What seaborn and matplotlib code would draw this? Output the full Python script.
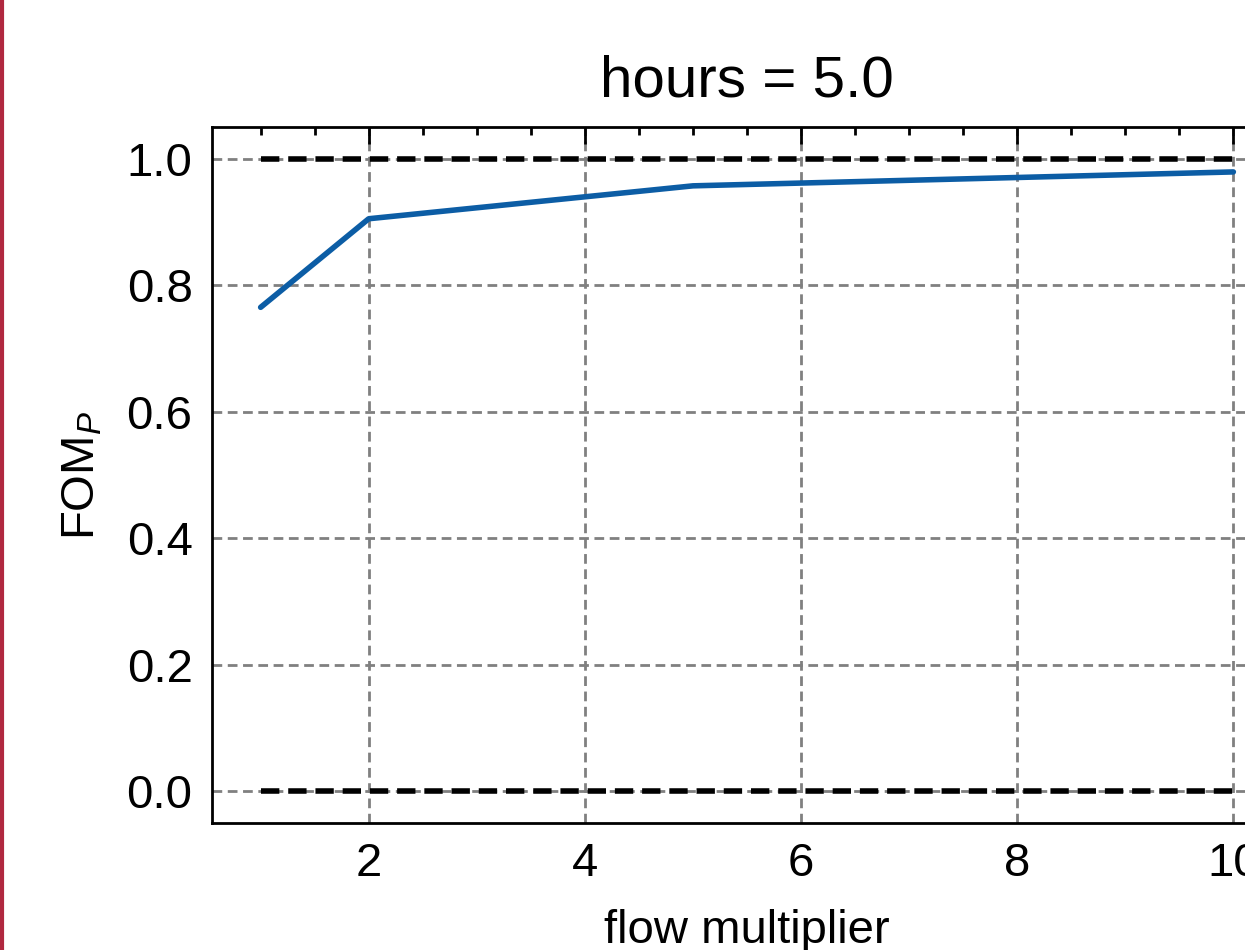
import matplotlib
matplotlib.use("Agg")
import matplotlib.pyplot as plt
import seaborn as sns
import pandas as pd
from matplotlib.ticker import AutoMinorLocator, MultipleLocator
from matplotlib.lines import Line2D

flow_multiplier = [1, 2, 5, 10]
fom_p = [0.765, 0.905, 0.957, 0.979]
ref_levels = [0.0, 1.0]
title_text = "hours = 5.0"

sns.set_theme(style="white")
plt.rcParams["font.family"] = ["Liberation Sans", "DejaVu Sans"]
plt.rcParams["mathtext.fontset"] = "custom"
plt.rcParams["mathtext.rm"] = "Liberation Sans"
plt.rcParams["mathtext.it"] = "Liberation Sans:italic"
for k in ["text.color", "axes.labelcolor", "xtick.color", "ytick.color",
          "xtick.labelcolor", "ytick.labelcolor"]:
    plt.rcParams[k] = "black"

DPI = 400
fig = plt.figure(figsize=(1245 / DPI, 950 / DPI), dpi=DPI)
ax = fig.add_axes([212 / 1245, 1 - 823 / 950, (1282 - 212) / 1245, (823 - 127) / 950])

df = pd.DataFrame({"flow multiplier": flow_multiplier, "FOM": fom_p})

# grid
ax.grid(True, which="major", color="gray", linestyle=(0, (3.5, 2)), linewidth=0.5)
ax.set_axisbelow(True)

for lvl in ref_levels:
    ax.plot([min(flow_multiplier), max(flow_multiplier)], [lvl, lvl],
            color="black", linestyle=(0, (3.3, 1.6)), linewidth=1.0, zorder=2)

sns.lineplot(data=df, x="flow multiplier", y="FOM", ax=ax, color="#0C5DA5",
             linewidth=1.0, zorder=3)

ax.set_xlim(0.55, 10.45)
ax.set_ylim(-0.05, 1.05)
ax.xaxis.set_major_locator(MultipleLocator(2))
ax.xaxis.set_minor_locator(AutoMinorLocator(4))
ax.set_yticks([0, 0.2, 0.4, 0.6, 0.8, 1.0])
ax.set_yticklabels(["0.0", "0.2", "0.4", "0.6", "0.8", "1.0"])
ax.yaxis.set_minor_locator(AutoMinorLocator(4))

ax.tick_params(which="both", direction="in", top=True, right=True,
               width=0.5, labelsize=8.5, pad=3.5, color="black", labelcolor="black")
ax.tick_params(which="major", length=3)
ax.tick_params(which="minor", length=1.5)
for s in ax.spines.values():
    s.set_linewidth(0.5)
    s.set_color("black")

ax.set_xlabel("flow multiplier", fontsize=8.5, labelpad=4, color="black")
ax.set_ylabel(r"FOM$_{\mathit{P}}$", fontsize=8.5, labelpad=4, color="black")
ax.set_title(title_text, fontsize=10.5, pad=5.5, color="black")

fig.add_artist(Line2D([2 / 1245, 2 / 1245], [0, 1], transform=fig.transFigure,
                      color="#b0283f", linewidth=0.75))

fig.savefig("out.png", dpi=DPI)
